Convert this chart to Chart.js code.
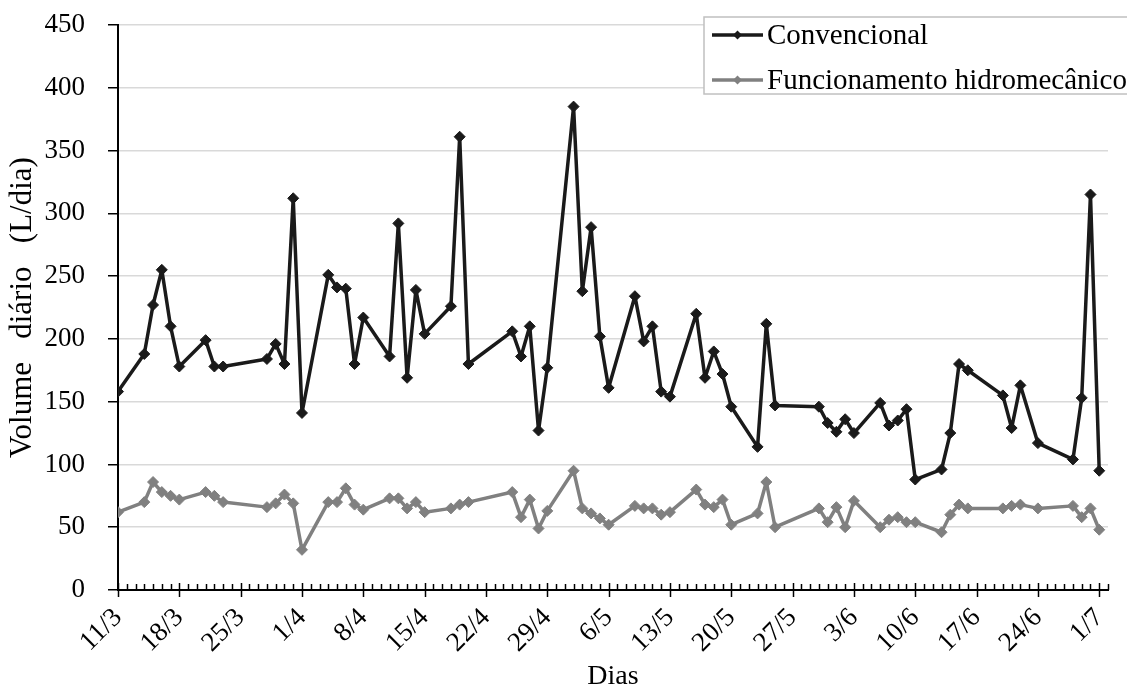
<!DOCTYPE html>
<html><head><meta charset="utf-8">
<script src="https://cdn.jsdelivr.net/npm/chart.js@4.4.1/dist/chart.umd.min.js"></script>
<style>html,body{margin:0;padding:0;background:#fff}</style>
</head><body>
<canvas id="c" width="1127" height="693" style="display:block;width:1127px;height:693px"></canvas>
<script>
// Days counted from 11/3 (day 0)
const days = [0,3,4,5,6,7,10,11,12,17,18,19,20,21,24,25,26,27,28,31,32,33,34,35,38,39,40,45,46,47,48,49,52,53,54,55,56,59,60,61,62,63,66,67,68,69,70,73,74,75,80,81,82,83,84,87,88,89,90,91,94,95,96,97,101,102,103,105,109,110,111,112];
const convencional = [158,188,227,255,210,178,199,178,178,184,196,180,312,141,251,241,240,180,217,186,292,169,239,204,226,361,180,206,186,210,127,177,385,238,289,202,161,234,198,210,158,154,220,169,190,172,146,114,212,147,146,133,126,136,125,149,131,135,144,88,96,125,180,175,155,129,163,117,104,153,315,95];
const hidromecanico = [62,70,86,78,75,72,78,75,70,66,69,76,69,32,70,70,81,68,64,73,73,65,70,62,65,68,70,78,58,72,49,63,95,65,61,57,52,67,65,65,60,62,80,68,66,72,52,61,86,50,65,54,66,50,71,50,56,58,54,54,46,60,68,65,65,67,68,65,67,58,65,48];
const tickLabels = ['11/3','18/3','25/3','1/4','8/4','15/4','22/4','29/4','6/5','13/5','20/5','27/5','3/6','10/6','17/6','24/6','1/7'];
const seriesNames = ['Convencional','Funcionamento hidromecânico'];
const yTitle = 'Volume   diário   (L/dia)';
const xTitle = 'Dias';

const FONT = "'Liberation Serif', 'Times New Roman', serif";

const xTicksPlugin = {
  id: 'xTicks',
  afterDraw(chart) {
    const xs = chart.scales.x;
    const ctx = chart.ctx;
    const y0 = xs.top;
    ctx.save();
    ctx.strokeStyle = '#000';
    ctx.lineWidth = 1.5;
    for (let d = xs.min; d <= xs.max; d++) {
      const x = Math.round(xs.getPixelForValue(d)) + 0.5;
      ctx.beginPath();
      if (d % 7 === 0) { ctx.moveTo(x, y0 - 7); ctx.lineTo(x, y0 + 7); }
      else { ctx.moveTo(x, y0 - 6); ctx.lineTo(x, y0); }
      ctx.stroke();
    }
    ctx.restore();
  }
};

const legendPlugin = {
  id: 'customLegend',
  afterDraw(chart) {
    const ctx = chart.ctx;
    ctx.save();
    const bx = 704, by = 17, bw = 440, bh = 77;
    ctx.fillStyle = '#fff';
    ctx.fillRect(bx, by, bw, bh);
    ctx.strokeStyle = '#c0c0c0';
    ctx.lineWidth = 1.5;
    ctx.strokeRect(bx, by, bw, bh);
    chart.data.datasets.forEach((ds, i) => {
      const y = 35 + i * 45;
      ctx.strokeStyle = ds.borderColor;
      ctx.lineWidth = 3.5;
      ctx.beginPath(); ctx.moveTo(712, y); ctx.lineTo(763, y); ctx.stroke();
      ctx.fillStyle = ds.borderColor;
      ctx.beginPath();
      ctx.moveTo(737.5, y - 4.5); ctx.lineTo(742, y); ctx.lineTo(737.5, y + 4.5); ctx.lineTo(733, y);
      ctx.closePath(); ctx.fill();
      ctx.fillStyle = '#000';
      ctx.font = '29px ' + FONT;
      ctx.textBaseline = 'middle';
      ctx.textAlign = 'left';
      ctx.fillText(ds.label, 767, y + 1);
    });
    ctx.restore();
  }
};

new Chart(document.getElementById('c'), {
  type: 'line',
  data: {
    datasets: [
      {
        label: seriesNames[0],
        data: days.map((d, i) => ({x: d, y: convencional[i]})),
        borderColor: '#1a1a1a', backgroundColor: '#1a1a1a',
        borderWidth: 3.5, borderJoinStyle: 'round', pointStyle: 'rectRot', pointRadius: 5.5,
        pointBorderWidth: 1, tension: 0
      },
      {
        label: seriesNames[1],
        data: days.map((d, i) => ({x: d, y: hidromecanico[i]})),
        borderColor: '#808080', backgroundColor: '#808080',
        borderWidth: 3.5, borderJoinStyle: 'round', pointStyle: 'rectRot', pointRadius: 5.5,
        pointBorderWidth: 1, tension: 0
      }
    ]
  },
  options: {
    responsive: false,
    animation: false,
    devicePixelRatio: 1,
    layout: { padding: { left: 0, right: 19, top: 25, bottom: 0 } },
    plugins: { legend: { display: false }, tooltip: { enabled: false } },
    scales: {
      x: {
        type: 'linear', min: 0, max: 113,
        afterFit(s) { s.height = 103; s.paddingLeft = 0; s.paddingRight = 0; },
        afterBuildTicks(s) { s.ticks = tickLabels.map((_, i) => ({ value: i * 7 })); },
        grid: { display: false, drawTicks: false },
        border: { display: true, color: '#000', width: 2 },
        ticks: {
          autoSkip: false, minRotation: 45, maxRotation: 45, padding: 12,
          color: '#000', font: { family: FONT, size: 27 },
          callback: (v) => tickLabels[Math.round(v / 7)] || ''
        },
        title: { display: true, text: xTitle, color: '#000', font: { family: FONT, size: 28 }, padding: { top: 0, bottom: 0 } }
      },
      y: {
        min: 0, max: 450,
        afterFit(s) { s.width = 118; s.paddingTop = 0; s.paddingBottom = 0; },
        grid: { color: '#d9d9d9', lineWidth: 1.5, tickColor: '#000', tickLength: 10, tickWidth: 1.5 },
        border: { display: true, color: '#000', width: 2 },
        ticks: { stepSize: 50, padding: 23, color: '#000', font: { family: FONT, size: 27 } },
        title: { display: true, text: yTitle, color: '#000', font: { family: FONT, size: 31 }, padding: { top: 4, bottom: 0 } }
      }
    }
  },
  plugins: [xTicksPlugin, legendPlugin]
});
</script>
</body></html>
